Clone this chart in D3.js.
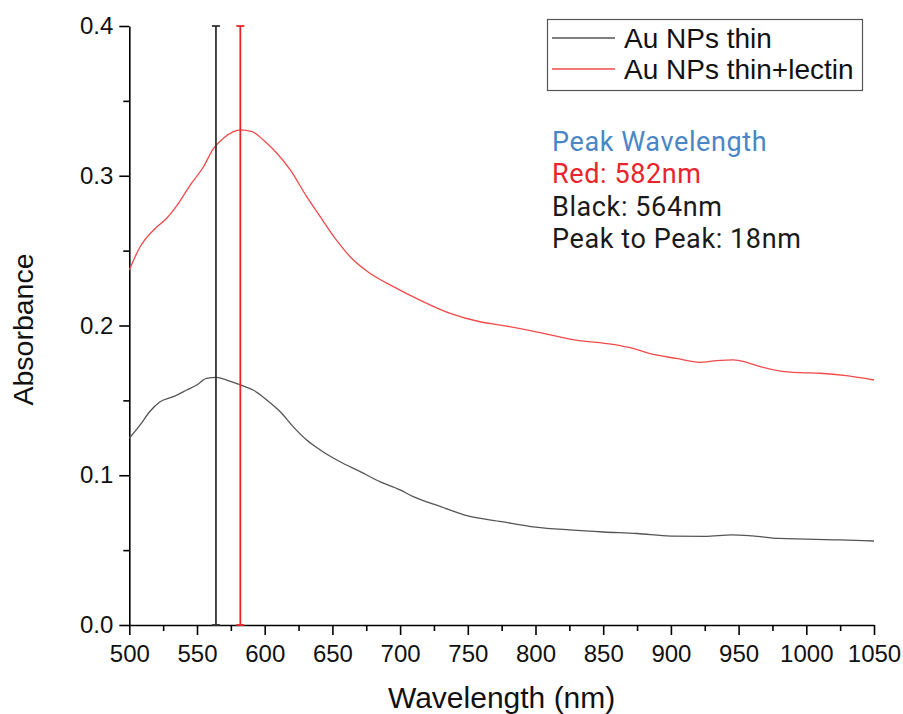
<!DOCTYPE html>
<html>
<head>
<meta charset="utf-8">
<script src="https://cdn.jsdelivr.net/npm/d3@7"></script>
<style>
  html, body { margin: 0; padding: 0; background: #fff; }
  svg { display: block; }
</style>
</head>
<body>
<svg id="chart" width="903" height="714"></svg>
<script>
// Absorbance spectra: [wavelength (nm), absorbance]
const thinSeries = [
  [500, 0.1247], [508, 0.1336], [515, 0.1424], [522.7, 0.1491], [532.5, 0.1525],
  [542.4, 0.1569], [549.8, 0.1603], [557, 0.1647], [564.5, 0.1654], [572, 0.1636],
  [582, 0.1603], [591.5, 0.1569], [601.5, 0.1503], [611.5, 0.1424], [621, 0.1325],
  [631, 0.1235], [641, 0.1169], [655.7, 0.109], [670.5, 0.1024], [685, 0.0957],
  [700, 0.0902], [709.7, 0.0857], [730, 0.079], [750, 0.0728], [775, 0.069],
  [800, 0.0654], [825, 0.0635], [850, 0.0621], [875, 0.0611], [900, 0.0594],
  [925, 0.0592], [945, 0.0602], [960, 0.0595], [980, 0.0578], [1000, 0.0574],
  [1025, 0.0568], [1050, 0.0561]
];
const lectinSeries = [
  [500, 0.237], [508, 0.2526], [518, 0.2638], [527.6, 0.2716], [536.3, 0.2816],
  [545, 0.2938], [554.8, 0.306], [562, 0.318], [569.5, 0.325], [577, 0.3294],
  [582, 0.3306], [590.7, 0.3294], [599, 0.3239], [609, 0.315], [619, 0.3038],
  [631, 0.286], [641, 0.2727], [653, 0.257], [665.5, 0.2437], [677.7, 0.2349],
  [695, 0.226], [714.6, 0.217], [737, 0.2081], [759, 0.2025], [774, 0.2003],
  [798, 0.1963], [830, 0.1903], [857, 0.1874], [872, 0.1847], [884, 0.1814],
  [904, 0.178], [921.4, 0.1754], [933.7, 0.1765], [946, 0.177], [956, 0.1754],
  [966, 0.1725], [981, 0.1696], [995.6, 0.1685], [1010, 0.1681], [1029.6, 0.1665],
  [1050, 0.1636]
];

const seriesNames = ["Au NPs thin", "Au NPs thin+lectin"];
const seriesColors = ["#555555", "#f04a4a"];

// Peak positions (nm) marked with drop lines
const peakWavelengths = [564, 582];
const peakColors = ["#333333", "#e8242c"];

const xTicks = [500, 550, 600, 650, 700, 750, 800, 850, 900, 950, 1000, 1050];
const xMinorTicks = [525, 575, 625, 675, 725, 775, 825, 875, 925, 975, 1025];
const yTicks = [0.0, 0.1, 0.2, 0.3, 0.4];
const yMinorTicks = [0.05, 0.15, 0.25, 0.35];

const annotationLines = ["Peak Wavelength", "Red: 582nm", "Black: 564nm", "Peak to Peak: 18nm"];
const annotationColors = ["#4a86c6", "#e8242c", "#1a1a1a", "#1a1a1a"];

const svg = d3.select("#chart");
const plot = { left: 129.3, right: 874, top: 26, bottom: 625 };

const x = d3.scaleLinear().domain([500, 1050]).range([plot.left, plot.right]);
const y = d3.scaleLinear().domain([0, 0.4]).range([plot.bottom, plot.top]);

const tickFont = "'Liberation Sans', Arial, sans-serif";

// Minor ticks
svg.append("g")
  .attr("transform", `translate(0,${plot.bottom})`)
  .call(d3.axisBottom(x).tickValues(xMinorTicks).tickSize(6).tickFormat(""))
  .call(g => g.select(".domain").remove())
  .selectAll("line").attr("stroke", "#000").attr("stroke-width", 1.6);
svg.append("g")
  .attr("transform", `translate(${plot.left},0)`)
  .call(d3.axisLeft(y).tickValues(yMinorTicks).tickSize(6).tickFormat(""))
  .call(g => g.select(".domain").remove())
  .selectAll("line").attr("stroke", "#000").attr("stroke-width", 1.6);

// Major axes
const xAxis = svg.append("g")
  .attr("transform", `translate(0,${plot.bottom})`)
  .call(d3.axisBottom(x).tickValues(xTicks).tickSize(10).tickSizeOuter(0).tickPadding(10).tickFormat(d3.format("d")));
const yAxis = svg.append("g")
  .attr("transform", `translate(${plot.left},0)`)
  .call(d3.axisLeft(y).tickValues(yTicks).tickSize(10).tickSizeOuter(0).tickPadding(6).tickFormat(d3.format(".1f")));

[xAxis, yAxis].forEach(g => {
  g.select(".domain").attr("stroke", "#000").attr("stroke-width", 1.6);
  g.selectAll(".tick line").attr("stroke", "#000").attr("stroke-width", 1.6);
  g.selectAll("text").attr("fill", "#111").style("font-family", tickFont).style("font-size", "24px");
});
xAxis.selectAll("text").attr("dy", "0.71em");

// Axis titles
svg.append("text")
  .attr("x", (plot.left + plot.right) / 2).attr("y", 708)
  .attr("text-anchor", "middle")
  .style("font-family", tickFont).style("font-size", "30px").attr("fill", "#111")
  .text("Wavelength (nm)");
svg.append("text")
  .attr("transform", `translate(33,${(plot.top + plot.bottom) / 2 + 4}) rotate(-90)`)
  .attr("text-anchor", "middle")
  .style("font-family", tickFont).style("font-size", "28.5px").attr("fill", "#111")
  .text("Absorbance");

// Spectra
const line = d3.line()
  .x(d => x(d[0])).y(d => y(d[1]))
  .curve(d3.curveMonotoneX);
[thinSeries, lectinSeries].forEach((s, i) => {
  svg.append("path").datum(s)
    .attr("fill", "none")
    .attr("stroke", seriesColors[i])
    .attr("stroke-width", 1.3)
    .attr("d", line);
});

// Peak drop lines with end caps
const capHalf = 4;
peakWavelengths.forEach((w, i) => {
  const g = svg.append("g").attr("stroke", peakColors[i]).attr("stroke-width", 1.8);
  g.append("line").attr("x1", x(w)).attr("x2", x(w)).attr("y1", y(0)).attr("y2", y(0.4));
  [0, 0.4].forEach(v => {
    g.append("line")
      .attr("x1", x(w) - capHalf).attr("x2", x(w) + capHalf)
      .attr("y1", y(v)).attr("y2", y(v));
  });
});

// Legend
const legend = svg.append("g");
legend.append("rect")
  .attr("x", 547.5).attr("y", 19.5).attr("width", 315).attr("height", 71)
  .attr("fill", "#fff").attr("stroke", "#555").attr("stroke-width", 1.2);
seriesNames.forEach((name, i) => {
  const cy = 38 + i * 31;
  legend.append("line")
    .attr("x1", 552).attr("x2", 615).attr("y1", cy).attr("y2", cy)
    .attr("stroke", seriesColors[i]).attr("stroke-width", 1.3);
  legend.append("text")
    .attr("x", 624).attr("y", cy + 9.5)
    .style("font-family", tickFont).style("font-size", "28px").attr("fill", "#111")
    .text(name);
});

// Peak annotation
annotationLines.forEach((t, i) => {
  svg.append("text")
    .attr("x", 552).attr("y", 151 + i * 32.3)
    .style("font-family", "Roboto, 'Noto Sans', sans-serif").style("font-size", "27px")
    .style("letter-spacing", "0.6px")
    .attr("fill", annotationColors[i])
    .text(t);
});
</script>
</body>
</html>
